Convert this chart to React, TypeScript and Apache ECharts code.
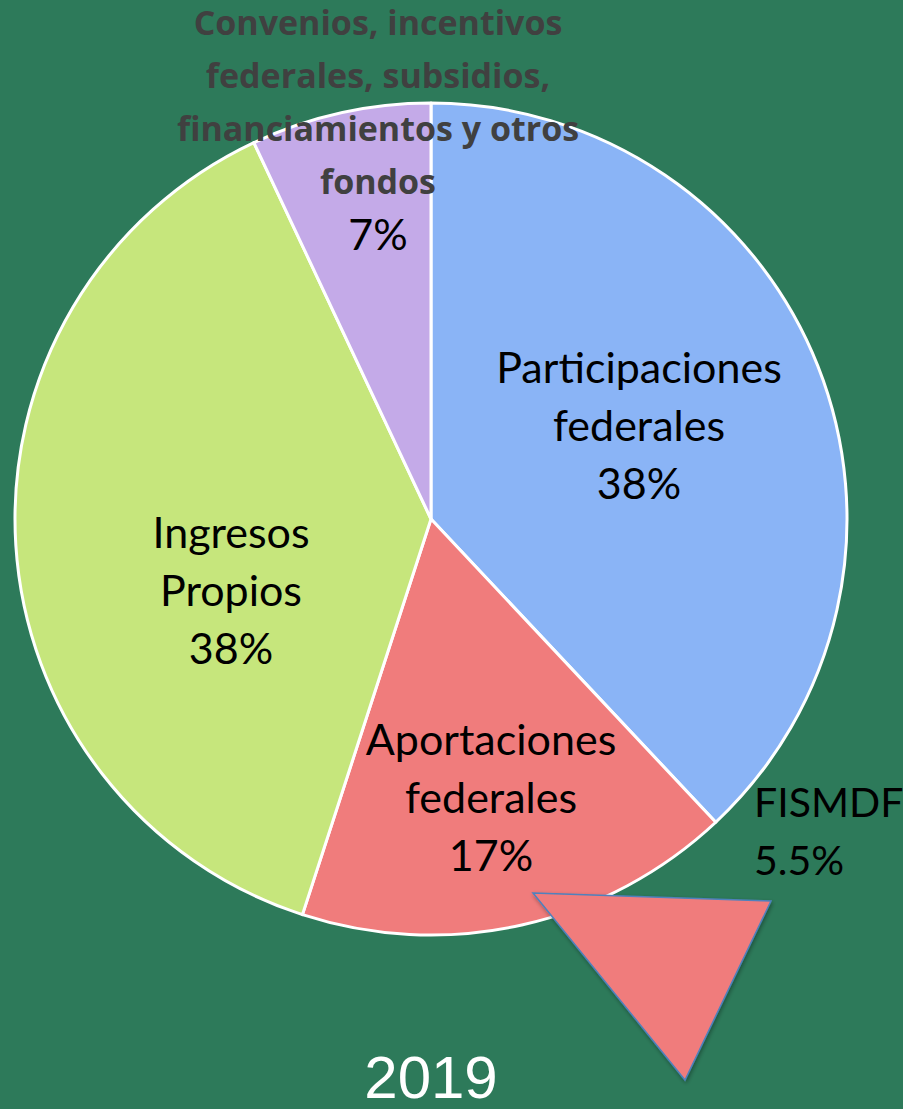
import React, { useEffect, useRef } from "react";
import * as echarts from "echarts";

const categories = [
  "Participaciones federales",
  "Aportaciones federales",
  "Ingresos Propios",
  "Convenios, incentivos federales, subsidios, financiamientos y otros fondos",
];
const values = [38, 17, 38, 7];
const colors = ["#8AB4F6", "#F07C7C", "#C6E67C", "#C4AAE8"];
const yearLabel = "2019";
const fisName = "FISMDF";
const fisValue = "5.5%";

const labelPos = [
  [639, 424],
  [491, 796],
  [231, 589],
  [378, 127],
];

export default function App() {
  const ref = useRef<HTMLDivElement>(null);
  useEffect(() => {
    document.body.style.margin = "0";
    const chart = echarts.init(ref.current!, null, { renderer: "svg" });
    const font = "Lato, 'Open Sans', sans-serif";
    chart.setOption({
      animation: false,
      backgroundColor: "#2D7A5A",
      series: [
        {
          type: "pie",
          center: [431, 519],
          radius: [0, 416],
          startAngle: 90,
          clockwise: true,
          itemStyle: { borderColor: "#FFFFFF", borderWidth: 3 },
          data: categories.map((c, i) => ({
            name: c,
            value: values[i],
            itemStyle: { color: colors[i] },
          })),
          label: {
            show: true,
            position: "inside",
            color: "#000",
            fontFamily: font,
            fontSize: 43,
            lineHeight: 58,
            align: "center",
            formatter: (p: any) => {
              if (p.dataIndex === 3) {
                const lines = [
                  "Convenios, incentivos",
                  "federales, subsidios,",
                  "financiamientos y otros",
                  "fondos",
                ];
                return lines.map((l) => `{b|${l}}`).join("\n") + `\n{p|${p.value}%}`;
              }
              const n = p.name.split(" ");
              return `${n.join("\n")}\n${p.value}%`;
            },
            rich: {
              b: {
                fontFamily: "'Open Sans', Lato, sans-serif",
                fontWeight: "bold",
                fontSize: 34,
                lineHeight: 53,
                color: "#404040",
                align: "center",
              },
              p: {
                fontFamily: font,
                fontSize: 43,
                lineHeight: 52,
                color: "#000",
                align: "center",
              },
            },
          },
          labelLine: { show: false },
          labelLayout: (params: any) => ({
            x: labelPos[params.dataIndex][0],
            y: labelPos[params.dataIndex][1],
          }),
          emphasis: { disabled: true },
        },
      ],
      graphic: [
        {
          type: "polygon",
          z: 100,
          shape: {
            points: [
              [533, 893],
              [771, 901],
              [685, 1080],
            ],
          },
          style: {
            fill: "#F07C7C",
            stroke: "#4F81BD",
            lineWidth: 1.5,
            shadowBlur: 4,
            shadowColor: "rgba(0,0,0,0.35)",
            shadowOffsetX: 1,
            shadowOffsetY: 2,
          },
        },
        {
          type: "text",
          z: 100,
          left: 754,
          top: 772,
          style: {
            text: `${fisName}\n${fisValue}`,
            fontFamily: font,
            fontSize: 41,
            lineHeight: 58,
            fill: "#000",
          },
        },
        {
          type: "text",
          z: 100,
          x: 431,
          y: 1077,
          style: {
            text: yearLabel,
            fontFamily: "'Liberation Sans', Arial, sans-serif",
            fontSize: 60,
            fill: "#FFFFFF",
            align: "center",
            verticalAlign: "middle",
          },
        },
      ],
    });
    return () => chart.dispose();
  }, []);
  return <div ref={ref} style={{ width: 903, height: 1109 }} />;
}
